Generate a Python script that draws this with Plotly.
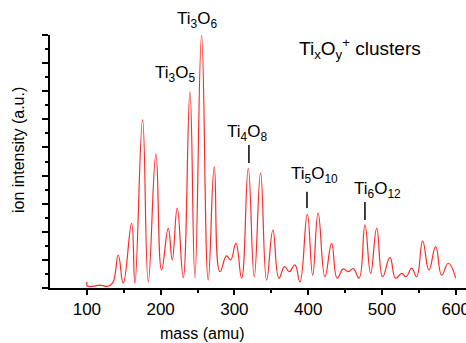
import plotly.graph_objects as go

# spectrum (mass in amu, intensity in arbitrary units)
mass = [100, 100.5, 110, 118, 128, 135, 142.5, 149.3, 160.6, 165.1, 175.5, 183.2,
        193.6, 201.3, 210.3, 215.7, 222.5, 230.6, 239.7, 246.5, 255.5, 264.5,
        272.7, 280.4, 289.4, 294.9, 302, 309.8, 318.8, 326.9, 335.5, 343.7,
        352.2, 360.4, 368, 374.4, 382, 388.9, 398.8, 406.1, 413.5, 422.8,
        431.8, 439.4, 447.6, 454.3, 461.2, 469, 477, 484.7, 492.9, 501,
        510.9, 518.6, 526.9, 532.6, 540.4, 547, 555.3, 563.7, 572.9, 581,
        590, 600]
intensity = [0.22, 0.07, 0.07, 0.10, 0.06, 0.18, 1.17, 0.17, 2.30, 0.17, 5.98, 0.22,
             4.77, 0.64, 2.12, 1.00, 2.84, 0.36, 6.98, 0.36, 9.00, 0.28,
             4.32, 0.58, 1.14, 1.00, 1.59, 0.35, 4.26, 0.40, 4.10, 0.28,
             2.06, 0.35, 0.76, 0.58, 0.82, 0.22, 2.63, 0.46, 2.66, 0.40,
             1.59, 0.35, 0.68, 0.58, 0.69, 0.35, 2.24, 0.52, 2.12, 0.40,
             1.09, 0.35, 0.52, 0.40, 0.70, 0.40, 1.67, 0.64, 1.47, 0.46,
             0.88, 0.35]

label_text = ["Ti<sub>3</sub>O<sub>6</sub>", "Ti<sub>3</sub>O<sub>5</sub>",
              "Ti<sub>4</sub>O<sub>8</sub>", "Ti<sub>5</sub>O<sub>10</sub>",
              "Ti<sub>6</sub>O<sub>12</sub>"]
label_mass = [255.5, 239.7, 318.8, 398.8, 477]
x_ticks = [100, 200, 300, 400, 500, 600]

FONT = "Liberation Sans, Arial, sans-serif"
L, T, B = 50, 35, 55
H = 343
PLOT_H = H - T - B

def ypaper(py):
    return (H - B - py) / PLOT_H

fig = go.Figure()
fig.add_trace(go.Scatter(x=mass, y=intensity, mode="lines",
                         line=dict(color="#ff2a2a", width=1.2, shape="spline", smoothing=1.3),
                         hoverinfo="skip", showlegend=False))

# label placement: text centre (x in amu, y in pixels from top) and marker lines
text_pos = [(249, 20), (219.5, 74), (317, 133), (408, 175), (494.6, 190)]
marker_lines = [(319.7, 4.45, 5.09), (398.4, 2.85, 3.42), (477, 2.42, 3.06)]

annotations = []
for t, (tx, ty) in zip(label_text, text_pos):
    annotations.append(dict(x=tx, y=ypaper(ty), xref="x", yref="paper", text=t,
                            showarrow=False,
                            font=dict(family=FONT, size=17, color="black"),
                            xanchor="center", yanchor="middle"))
shapes = [dict(type="line", xref="x", yref="y", x0=xm, x1=xm, y0=y0, y1=y1,
               line=dict(color="black", width=1.5)) for xm, y0, y1 in marker_lines]

annotations.append(dict(x=470, y=ypaper(48), xref="x", yref="paper",
                        text="Ti<sub>x</sub>O<sub>y</sub><sup>+</sup> clusters",
                        showarrow=False, font=dict(family=FONT, size=19, color="black"),
                        xanchor="center", yanchor="middle"))
# axis titles
annotations.append(dict(x=256, y=ypaper(333), xref="x", yref="paper", text="mass (amu)",
                        showarrow=False, font=dict(family=FONT, size=16, color="black"),
                        xanchor="center", yanchor="middle"))
annotations.append(dict(x=-(L - 18) / 416, y=ypaper(150), xref="paper", yref="paper",
                        text="ion intensity (a.u.)", textangle=-90,
                        showarrow=False, font=dict(family=FONT, size=16, color="black"),
                        xanchor="center", yanchor="middle"))

fig.update_layout(
    width=466, height=343,
    margin=dict(l=L, r=0, t=T, b=B, autoexpand=False),
    paper_bgcolor="white", plot_bgcolor="white",
    font=dict(family=FONT, size=16, color="black"),
    annotations=annotations, shapes=shapes,
    xaxis=dict(range=[50, 614], tickvals=x_ticks, ticks="outside", ticklen=5,
               tickwidth=1.5, tickcolor="black", showline=True, linecolor="black",
               linewidth=2, showgrid=False, zeroline=False, automargin=False,
               tickfont=dict(size=17), ticklabeloverflow="allow",
               minor=dict(tickvals=[150, 250, 350, 450, 550], ticks="outside",
                          ticklen=3, tickwidth=1.5, tickcolor="black")),
    yaxis=dict(range=[0, 9], dtick=1, ticks="outside", ticklen=6, tickwidth=1.5,
               tickcolor="black", showline=True, linecolor="black", linewidth=2,
               showticklabels=False, showgrid=False, zeroline=False, automargin=False,
               minor=dict(dtick=0.5, ticks="outside", ticklen=3, tickwidth=1.5,
                          tickcolor="black")),
)

fig.write_html("out.html", config={"displayModeBar": False},
               post_script="document.body.style.margin='0';document.body.style.padding='0';")
